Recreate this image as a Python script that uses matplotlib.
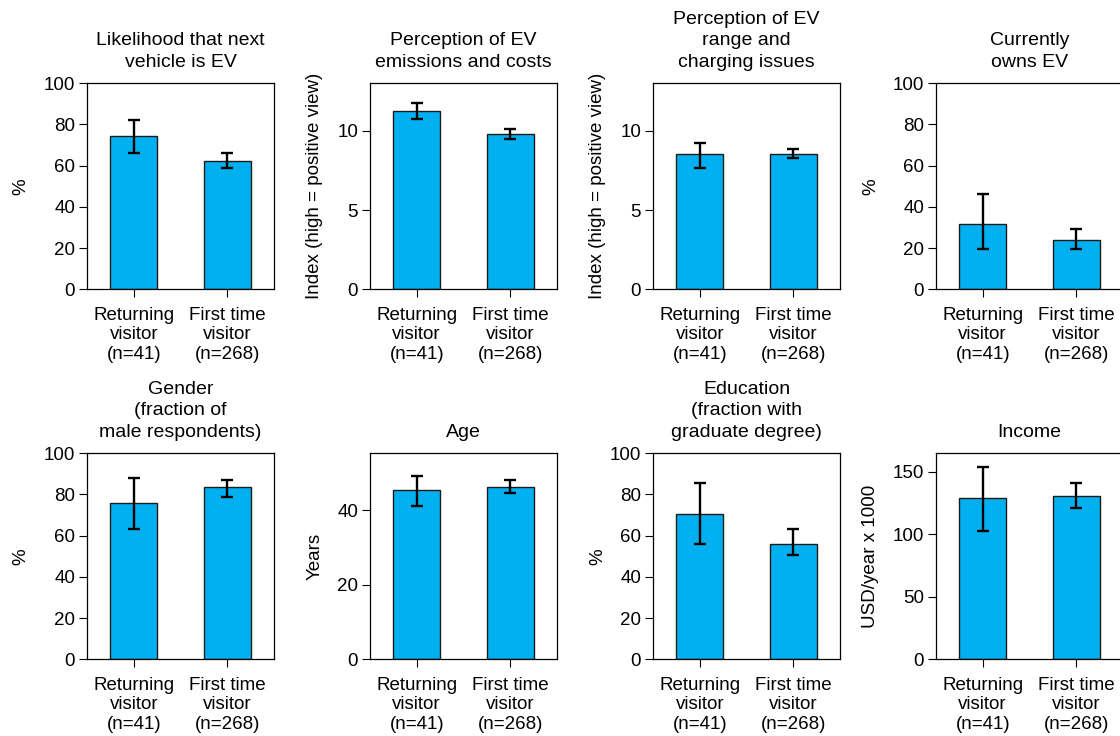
import matplotlib
matplotlib.use("Agg")
import matplotlib.pyplot as plt
import numpy as np

plt.rcParams["font.family"] = ["Liberation Sans", "DejaVu Sans"]
plt.rcParams["font.size"] = 13.5

groups = ["Returning\nvisitor\n(n=41)", "First time\nvisitor\n(n=268)"]

titles = [
    "Likelihood that next\nvehicle is EV",
    "Perception of EV\nemissions and costs",
    "Perception of EV\nrange and\ncharging issues",
    "Currently\nowns EV",
    "Gender\n(fraction of\nmale respondents)",
    "Age",
    "Education\n(fraction with\ngraduate degree)",
    "Income",
]
ylabels = [
    "%",
    "Index (high = positive view)",
    "Index (high = positive view)",
    "%",
    "%",
    "Years",
    "%",
    "USD/year x 1000",
]

# mean values per group, with lower / upper bounds of the confidence interval
ev_next = [74.4, 62.3]
ev_next_lo = [66.4, 59.1]
ev_next_hi = [82.4, 66.1]

emissions = [11.28, 9.78]
emissions_lo = [10.75, 9.51]
emissions_hi = [11.76, 10.12]

range_idx = [8.54, 8.54]
range_lo = [7.64, 8.27]
range_hi = [9.26, 8.86]

owns_ev = [31.7, 24.0]
owns_ev_lo = [19.4, 19.4]
owns_ev_hi = [46.3, 29.2]

male = [75.7, 83.5]
male_lo = [63.2, 78.6]
male_hi = [87.9, 87.0]

age = [45.4, 46.2]
age_lo = [41.2, 44.5]
age_hi = [49.1, 48.0]

grad = [70.7, 55.8]
grad_lo = [55.8, 50.5]
grad_hi = [85.4, 63.1]

income = [129.1, 130.7]
income_lo = [102.9, 121.3]
income_hi = [153.6, 140.8]

series = [
    (ev_next, ev_next_lo, ev_next_hi),
    (emissions, emissions_lo, emissions_hi),
    (range_idx, range_lo, range_hi),
    (owns_ev, owns_ev_lo, owns_ev_hi),
    (male, male_lo, male_hi),
    (age, age_lo, age_hi),
    (grad, grad_lo, grad_hi),
    (income, income_lo, income_hi),
]
ylims = [(0, 100), (0, 13), (0, 13), (0, 100), (0, 100), (0, 55.2), (0, 100), (0, 164.7)]
yticks = [
    [0, 20, 40, 60, 80, 100],
    [0, 5, 10],
    [0, 5, 10],
    [0, 20, 40, 60, 80, 100],
    [0, 20, 40, 60, 80, 100],
    [0, 20, 40],
    [0, 20, 40, 60, 80, 100],
    [0, 50, 100, 150],
]

W, H = 1120, 736
fig = plt.figure(figsize=(W / 100, H / 100), dpi=100)

col_left = [87, 370, 653, 936]
row_top = [83.3, 453.3]
ax_w, ax_h = 187, 206
label_x = [-0.31, -0.25, -0.25, -0.305]

for i in range(8):
    r, c = divmod(i, 4)
    ax = fig.add_axes([col_left[c] / W, 1 - (row_top[r] + ax_h) / H, ax_w / W, ax_h / H])
    vals, lo, hi = series[i]
    vals = np.array(vals)
    yerr = np.vstack([vals - np.array(lo), np.array(hi) - vals])
    x = np.arange(len(groups))
    ax.bar(x, vals, width=0.5, color="#00B0F0", edgecolor="#1a1a1a", linewidth=1.0, zorder=2)
    ax.errorbar(x, vals, yerr=yerr, fmt="none", ecolor="black", elinewidth=1.7,
                capsize=4, capthick=1.7, zorder=3)
    ax.set_xlim(-0.5, 1.5)
    ax.set_ylim(*ylims[i])
    ax.set_yticks(yticks[i])
    ax.set_xticks(x)
    ax.set_xticklabels(groups, linespacing=1.2)
    ax.tick_params(axis="both", direction="out", length=5.5, width=0.8, labelsize=13.5)
    ax.tick_params(axis="x", pad=7)
    ax.tick_params(axis="y", pad=3)
    for sp in ax.spines.values():
        sp.set_linewidth(0.9)
    ax.set_title(titles[i], fontsize=14, pad=12, linespacing=1.35)
    ax.set_ylabel(ylabels[i], fontsize=13.5)
    ax.yaxis.set_label_coords(label_x[c], 0.5)

fig.savefig("out.png", dpi=100)
